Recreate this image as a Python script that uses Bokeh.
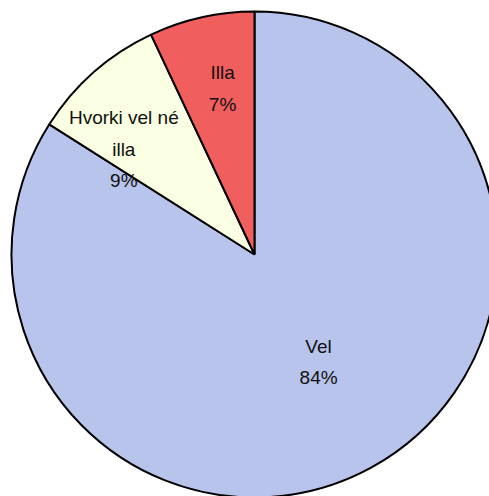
import math
from bokeh.plotting import figure
from bokeh.models import ColumnDataSource, Range1d
from bokeh.core.properties import value
from bokeh.embed import file_html
from bokeh.resources import INLINE

categories = ["Vel", "Hvorki vel né\nilla", "Illa"]
shares = [84, 9, 7]
colors = ["#B8C4EC", "#FAFEE2", "#F05E5E"]
label_radius = [0.515, 0.69, 0.695]
label_nudge_deg = [2, 9.8, -1.7]

R = 243.0
total = float(sum(shares))
starts, ends, lx, ly, texts = [], [], [], [], []
acc = 0.0
for cat, v, rf, nd in zip(categories, shares, label_radius, label_nudge_deg):
    a0 = math.pi / 2 - 2 * math.pi * acc / total
    acc += v
    a1 = math.pi / 2 - 2 * math.pi * acc / total
    starts.append(a0)
    ends.append(a1)
    mid = (a0 + a1) / 2 + math.radians(nd)
    lx.append(R * rf * math.cos(mid))
    ly.append(R * rf * math.sin(mid))
    texts.append(f"{cat}\n{round(100 * v / total)}%")

src = ColumnDataSource(dict(start=starts, end=ends, color=colors))
lsrc = ColumnDataSource(dict(x=lx, y=ly, text=texts))

p = figure(width=489, height=496, output_backend="svg", toolbar_location=None,
           x_range=Range1d(-254, 235), y_range=Range1d(-242, 254),
           min_border=0, outline_line_color=None)
p.axis.visible = False
p.grid.visible = False
p.background_fill_color = "white"

p.wedge(x=0, y=0, radius=R, start_angle="start", end_angle="end", direction="clock",
        fill_color="color", line_color="black", line_width=2, source=src)
p.text(x="x", y="y", text="text", source=lsrc, text_align="center",
       text_baseline="middle", text_font=value("Liberation Sans"),
       text_font_size="19px", text_color="#111111", text_line_height=1.5)

open("out.html", "w").write(file_html(p, INLINE))
